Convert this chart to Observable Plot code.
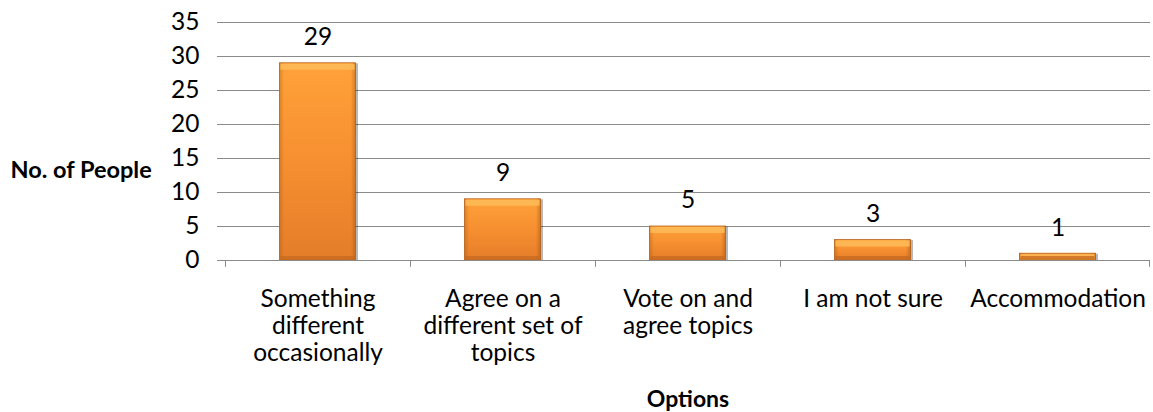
<!DOCTYPE html>
<html>
<head>
<meta charset="utf-8">
<script src="https://cdn.jsdelivr.net/npm/d3@7"></script>
<script src="https://cdn.jsdelivr.net/npm/@observablehq/plot@0.6"></script>
<style>
  html, body { margin: 0; padding: 0; background: #fff; }
  #chart svg { display: block; }
</style>
</head>
<body>
<div id="chart"></div>
<script>
const categories = [
  "Something\ndifferent\noccasionally",
  "Agree on a\ndifferent set of\ntopics",
  "Vote on and\nagree topics",
  "I am not sure",
  "Accommodation"
];
const values = [29, 9, 5, 3, 1];
const yTicks = [0, 5, 10, 15, 20, 25, 30, 35];
const yLabel = "No. of People";
const xLabel = "Options";

const data = categories.map((c, i) => ({category: c, value: values[i]}));

const W = 1153, H = 412;
const mL = 225, mR = 3, mT = 22, mB = 152;
const bw = (W - mL - mR) / categories.length;
const barInset = 54.5;
const font = "Lato, 'Open Sans', sans-serif";
const gridColor = "#8a8a8a";

const plot = Plot.plot({
  width: W,
  height: H,
  marginLeft: mL,
  marginRight: mR,
  marginTop: mT,
  marginBottom: mB,
  style: {fontFamily: font, fontSize: "24px", color: "#000", background: "#fff", overflow: "visible"},
  x: {domain: categories, padding: 0},
  y: {domain: [0, 35]},
  marks: [
    Plot.gridY(yTicks, {stroke: gridColor, strokeOpacity: 1, insetLeft: -8}),
    Plot.axisY({ticks: yTicks, tickSize: 0, tickPadding: 26, label: null, fontSize: 24.5, fill: "#000"}),
    Plot.axisX({tickSize: 0, tickPadding: 27, label: null, fontSize: 24.5, lineHeight: 1.1, fill: "#000"}),
    Plot.ruleX([0], {frameAnchor: "left", stroke: gridColor, y1: 0, y2: 35}),
    Plot.ruleX(categories, {x: d => d, y1: 0, y2: -1, dx: -bw / 2, stroke: gridColor}),
    Plot.ruleX([categories[categories.length - 1]], {x: d => d, y1: 0, y2: -1, dx: bw / 2 - 1, stroke: gridColor}),
    // shadow
    Plot.barY(data, {x: "category", y: "value", insetLeft: barInset, insetRight: barInset, dx: 2.5, dy: 0.5, fill: "#000", fillOpacity: 0.28}),
    // main body
    Plot.barY(data, {x: "category", y: "value", insetLeft: barInset, insetRight: barInset, fill: "url(#barBody)", stroke: "#b9611c", strokeWidth: 0.8}),
    // side bevels
    Plot.barY(data, {x: "category", y: "value", insetLeft: barInset, insetRight: barInset, fill: "url(#barSides)"}),
    // top bevel
    Plot.tickY(data, {x: "category", y: "value", insetLeft: barInset + 1, insetRight: barInset + 1, dy: 3.5, strokeWidth: 6, stroke: "#fdb957", strokeOpacity: 0.9}),
    // bottom bevel
    Plot.tickY(data, {x: "category", y: 0, insetLeft: barInset + 1, insetRight: barInset + 1, dy: -2.5, strokeWidth: 4, stroke: "#c76a20", strokeOpacity: 0.8}),
    Plot.ruleY([0], {stroke: gridColor}),
    Plot.text(data, {x: "category", y: "value", text: d => String(d.value), dy: -26, fontSize: 24.5, fill: "#000"}),
    Plot.text([xLabel], {frameAnchor: "bottom", dy: 146, fontWeight: "bold", fontSize: 23, fill: "#000"}),
    Plot.text([yLabel], {frameAnchor: "left", textAnchor: "start", dx: -215, dy: 29, fontWeight: "bold", fontSize: 23.5, fill: "#000"})
  ]
});

const defs = `
<defs>
  <linearGradient id="barBody" x1="0" y1="0" x2="0" y2="1">
    <stop offset="0" stop-color="#ffa23a"/>
    <stop offset="0.5" stop-color="#f68f30"/>
    <stop offset="1" stop-color="#e47d29"/>
  </linearGradient>
  <linearGradient id="barSides" x1="0" y1="0" x2="1" y2="0">
    <stop offset="0" stop-color="#a0500a" stop-opacity="0.35"/>
    <stop offset="0.06" stop-color="#a0500a" stop-opacity="0"/>
    <stop offset="0.94" stop-color="#a0500a" stop-opacity="0"/>
    <stop offset="1" stop-color="#a0500a" stop-opacity="0.45"/>
  </linearGradient>
</defs>`;
plot.insertAdjacentHTML("afterbegin", defs);
document.getElementById("chart").appendChild(plot);
</script>
</body>
</html>
